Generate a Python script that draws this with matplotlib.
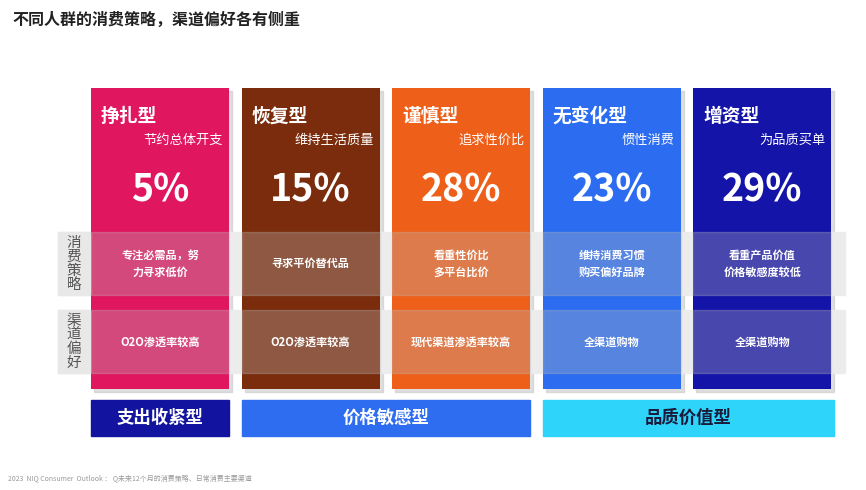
import matplotlib
matplotlib.use("Agg")
import matplotlib.pyplot as plt
from matplotlib.patches import Rectangle

plt.rcParams['font.family'] = ['Noto Sans CJK SC', 'DejaVu Sans']

names = ["挣扎型", "恢复型", "谨慎型", "无变化型", "增资型"]
subtitles = ["节约总体开支", "维持生活质量", "追求性价比", "惯性消费", "为品质买单"]
shares = [5, 15, 28, 23, 29]
strategies = ["专注必需品，努\n力寻求低价", "寻求平价替代品", "看重性价比\n多平台比价", "维持消费习惯\n购买偏好品牌", "看重产品价值\n价格敏感度较低"]
channels = ["O2O渗透率较高", "O2O渗透率较高", "现代渠道渗透率较高", "全渠道购物", "全渠道购物"]
groups = ["支出收紧型", "价格敏感型", "品质价值型"]
group_span = [(0, 0), (1, 2), (3, 4)]
colors = ["#E0165F", "#7A2C0C", "#EE5F1A", "#2B6CF0", "#1414A8"]
group_colors = ["#12139E", "#2F6DF0", "#2ED4FA"]
group_text = ["white", "white", "#1a1a3a"]

fig = plt.figure(figsize=(8.66, 4.9), dpi=100)
ax = fig.add_axes([0, 0, 1, 1])
ax.set_xlim(0, 866)
ax.set_ylim(490, 0)
ax.axis('off')

x0, pitch, w = 91, 150.6, 138
top, bot = 88, 389
xs = [x0 + i * pitch + w / 2 for i in range(5)]

for x in xs:
    ax.add_patch(Rectangle((x - w / 2 + 3, top + 3), w, bot - top, color="#c8c8c8", alpha=0.6, zorder=1))
ax.bar(xs, [bot - top] * 5, bottom=top, width=w, color=colors, zorder=2)

for (y1, y2) in [(232, 295), (310, 373)]:
    ax.add_patch(Rectangle((58, y1), 845 - 58, y2 - y1, color="#ececec", zorder=1.5))
    for x in xs:
        ax.add_patch(Rectangle((x - w / 2, y1), w, y2 - y1, color="#bcbcbc", alpha=0.31, zorder=3))
    ax.add_patch(Rectangle((58, y1), 32, y2 - y1, color="#e8e8e8", zorder=3.5))
ax.text(74, 263.5, "消\n费\n策\n略", ha='center', va='center', fontsize=10.5, color="#555555", linespacing=1.0, zorder=4)
ax.text(74, 341.5, "渠\n道\n偏\n好", ha='center', va='center', fontsize=10.5, color="#555555", linespacing=1.0, zorder=4)

for i, x in enumerate(xs):
    l = x - w / 2
    ax.text(l + 10, 116, names[i], ha='left', va='center', fontsize=13.5, fontweight='bold', color='white', zorder=5)
    ax.text(l + w - 6, 140, subtitles[i], ha='right', va='center', fontsize=9.5, color='white', zorder=5)
    ax.text(x, 190, f"{shares[i]}%", ha='center', va='center', fontsize=27, fontweight='bold', color='white', zorder=5)
    ax.text(x, 263.5, strategies[i], ha='center', va='center', fontsize=8, fontweight='bold', color='white', linespacing=1.4, zorder=5)
    ax.text(x, 342, channels[i], ha='center', va='center', fontsize=8, fontweight='bold', color='white', zorder=5)

for g, (a, b) in enumerate(group_span):
    l = xs[a] - w / 2
    r = xs[b] + w / 2 + (3 if g == 2 else 0)
    ax.add_patch(Rectangle((l, 400), r - l, 36, color=group_colors[g], zorder=2))
    ax.text((l + r) / 2, 418, groups[g], ha='center', va='center', fontsize=12.5, fontweight='bold', color=group_text[g], zorder=5)

ax.text(12, 20, "不同人群的消费策略，渠道偏好各有侧重", ha='left', va='center', fontsize=11.5, fontweight='bold', color='#222222')
ax.text(8, 479, "2023  NIQ Consumer  Outlook ： Q未来12个月的消费策略、日常消费主要渠道", ha='left', va='center', fontsize=5, color='#999999')

fig.savefig("out.png", dpi=100)
